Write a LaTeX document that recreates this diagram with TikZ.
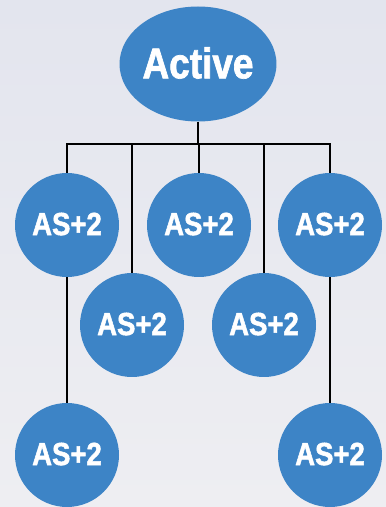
\documentclass[tikz,border=0pt]{standalone}
\usepackage{fontspec}
\usepackage{tikz}
\usetikzlibrary{shapes.geometric, positioning}
\newfontfamily\nodefont[FakeStretch=0.86, FakeBold=1.6]{Liberation Sans Bold}
\definecolor{NodeBlue}{HTML}{3D84C6}
\definecolor{BackTop}{HTML}{E3E5EE}
\definecolor{BackBottom}{HTML}{EEEEF2}
\tikzset{
  rootnode/.style={ellipse, minimum width=137pt, minimum height=115pt, inner sep=0pt, fill=NodeBlue, text=white, text depth=0.25em, font=\nodefont\fontsize{43}{43}\selectfont},
  asnode/.style={circle, minimum size=104pt, inner sep=0pt, fill=NodeBlue, text=white, text depth=0.22em, font=\nodefont\fontsize{32}{32}\selectfont},
  link/.style={draw=black, line width=2.3pt}
}

\begin{document}
\begin{tikzpicture}[x=1pt, y=1pt]
            \useasboundingbox [top color=BackTop, bottom color=BackBottom] (0,0) rectangle (386,507);
            \node (active) [rootnode] at (198,443) {Active};
            \coordinate (bus) at (198,363);
            % first row
            \node (as1) [asnode] at (67,282) {AS+2};
            \node (as3) [asnode] at (199,282) {AS+2};
            \node (as5) [asnode] at (330,282) {AS+2};
            % second row
            \node (as2) [asnode] at (132,182) {AS+2};
            \node (as4) [asnode] at (264,182) {AS+2};
            % bottom row
            \node (as6) [asnode] at (67,52) {AS+2};
            \node (as7) [asnode] at (330,52) {AS+2};
            \draw [link] (active) -- (bus);
            \draw [link] (as1) |- (bus);
            \draw [link] (as2) |- (bus);
            \draw [link] (as3) -- (as3 |- bus);
            \draw [link] (as4) |- (bus);
            \draw [link] (as5) |- (bus);
            \draw [link] (as1) -- (as6);
            \draw [link] (as5) -- (as7);
        \end{tikzpicture}
\end{document}
